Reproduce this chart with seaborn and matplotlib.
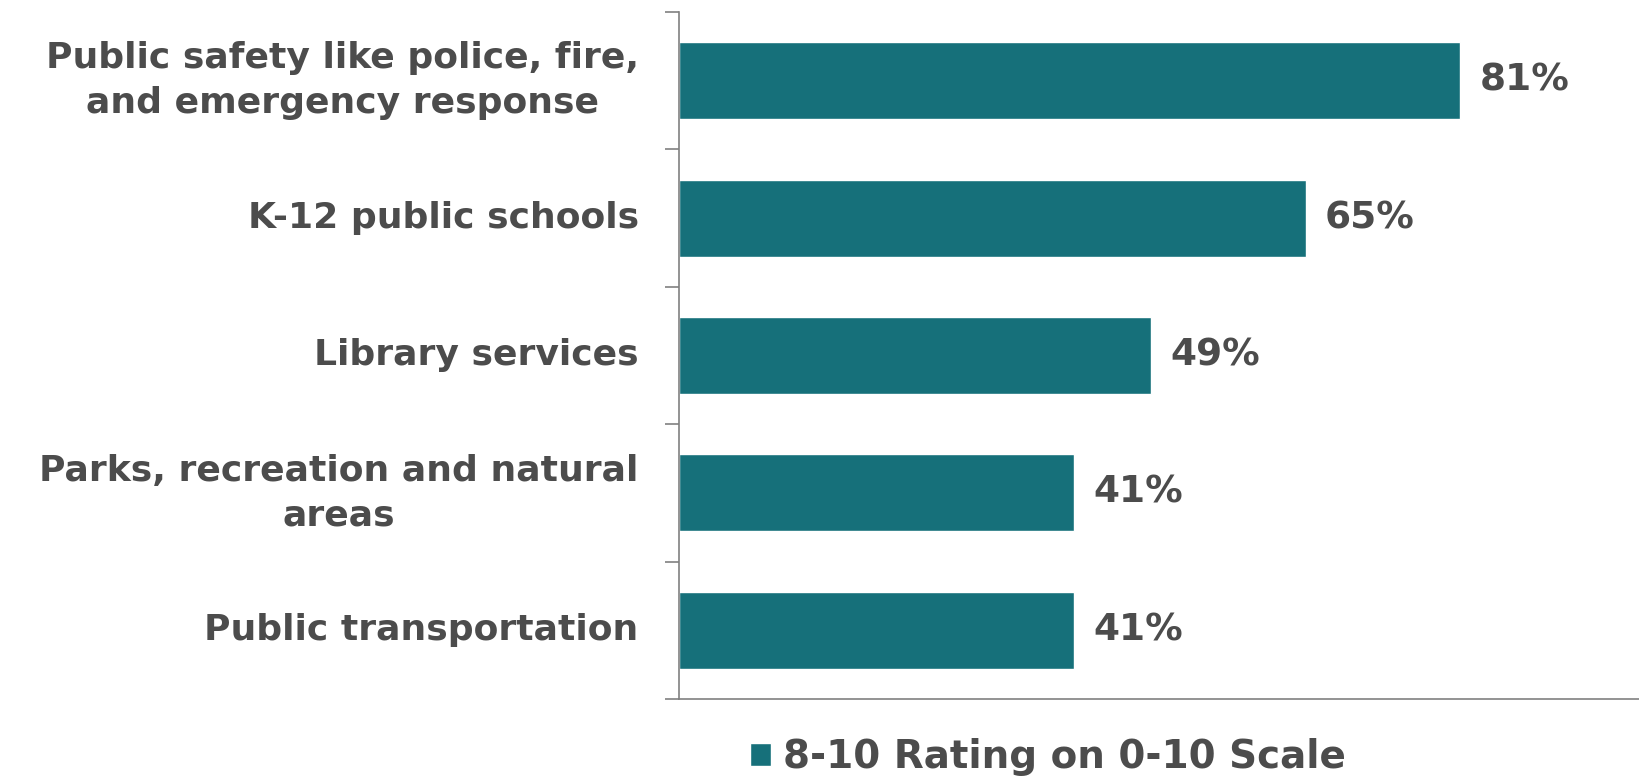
import matplotlib
matplotlib.use("Agg")
import matplotlib.pyplot as plt
import seaborn as sns
import pandas as pd
import numpy as np

# Survey results: share of respondents giving an 8-10 rating
categories = [
    "Public safety like police, fire,\nand emergency response",
    "K-12 public schools",
    "Library services",
    "Parks, recreation and natural\nareas",
    "Public transportation",
]
values = [81, 65, 49, 41, 41]
series_name = "8-10 Rating on 0-10 Scale"

BAR_COLOR = "#16707a"
TEXT_COLOR = "#4c4c4c"
AXIS_COLOR = "#808080"

sns.set_theme(style="white")
plt.rcParams["font.family"] = ["DejaVu Sans"]
plt.rcParams["font.weight"] = "bold"

df = pd.DataFrame({"service": categories, "pct": values})

fig = plt.figure(figsize=(16.4, 7.76), dpi=100)
ax = fig.add_axes([679 / 1640, 1 - 699 / 776, (1643 - 679) / 1640, (699 - 12) / 776])

sns.barplot(data=df, x="pct", y="service", orient="h", color=BAR_COLOR,
            width=0.56, saturation=1, ax=ax, label=series_name)

ax.set_xlim(0, 100)
ax.set_ylim(len(categories) - 0.5, -0.5)
ax.set_xlabel("")
ax.set_ylabel("")

for side in ("top", "right"):
    ax.spines[side].set_visible(False)
for side in ("left", "bottom"):
    ax.spines[side].set_color(AXIS_COLOR)
    ax.spines[side].set_linewidth(1.2)

ax.set_xticks([])
ax.tick_params(axis="y", which="major", length=0, pad=29,
               labelsize=26, labelcolor=TEXT_COLOR)
for lbl in ax.get_yticklabels():
    lbl.set_multialignment("center")
    lbl.set_fontweight("bold")
    lbl.set_linespacing(1.4)
    lbl.set_verticalalignment("center")

# boundary ticks between categories
ax.set_yticks(np.arange(-0.5, len(categories), 1.0), minor=True)
ax.tick_params(axis="y", which="minor", length=10, width=1.2, color=AXIS_COLOR,
               left=True, direction="out")

for cont in ax.containers:
    ax.bar_label(cont, labels=[f"{v}%" for v in values], padding=14,
                 fontsize=27, fontweight="bold", color=TEXT_COLOR)

leg = fig.legend(*ax.get_legend_handles_labels(), loc="center",
                 bbox_to_anchor=(1048 / 1640, 1 - 757 / 776),
                 bbox_transform=fig.transFigure,
                 frameon=False, fontsize=28, handlelength=0.55, handleheight=0.55,
                 handletextpad=0.3, borderaxespad=0, borderpad=0)
for t in leg.get_texts():
    t.set_color(TEXT_COLOR)
    t.set_fontweight("bold")
if ax.get_legend() is not None:
    ax.get_legend().remove()

fig.savefig("out.png", dpi=100, facecolor="white")
